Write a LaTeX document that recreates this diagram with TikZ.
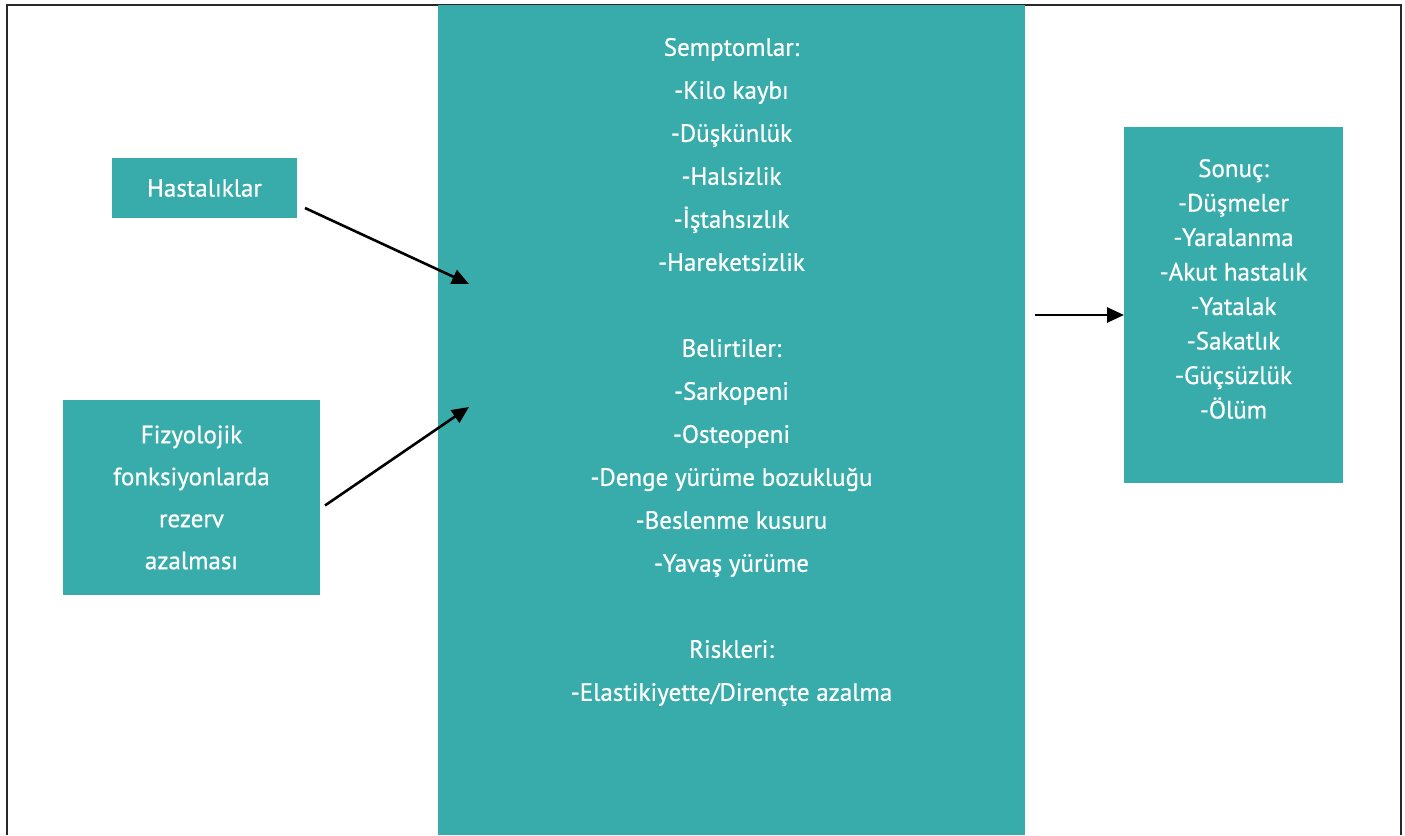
\documentclass[tikz,border=0pt]{standalone}
\usepackage{fontspec}
\setmainfont[FakeBold=0.7]{PT Sans}
\usepackage{tikz}
\usetikzlibrary{arrows.meta}

\begin{document}
\begin{tikzpicture}[x=1pt,y=1pt]
\definecolor{fillColor}{RGB}{56,172,170}
\definecolor{drawColor}{RGB}{40,40,40}
\tikzset{
  kutu/.style={fill=fillColor,draw=none,inner sep=0pt,outer sep=0pt,text=white,align=center},
  yazi/.style={text=white,align=center,inner sep=0pt,outer sep=0pt},
  ok/.style={draw=black,line width=2.6pt,-{Triangle[length=17pt,width=15pt]}}
}
\path[use as bounding box,fill=white] (0,0) rectangle (1405,835);

% frame
\path[draw=drawColor,line width=2pt] (7,0) -- (7,830) -- (1401,830) -- (1401,0);

% boxes
\node[kutu,minimum width=587,minimum height=830] (merkez) at (731.5,415) {};
\node[kutu,minimum width=185,minimum height=60,font=\fontsize{25}{42}\selectfont] (hastalik) at (204.5,647) {Hastalıklar};
\node[kutu,minimum width=257,minimum height=195,font=\fontsize{25}{42}\selectfont] (fizyo) at (191.5,337.5) {Fizyolojik\\fonksiyonlarda\\rezerv\\azalması};
\node[kutu,minimum width=219,minimum height=356] (sonuc) at (1233.5,530) {};

% texts
\node[yazi,font=\fontsize{25}{43}\selectfont] (belirti) at (731.5,463) {Semptomlar:\\-Kilo kaybı\\-Düşkünlük\\-Halsizlik\\-İştahsızlık\\-Hareketsizlik\\[43pt]Belirtiler:\\-Sarkopeni\\-Osteopeni\\-Denge yürüme bozukluğu\\-Beslenme kusuru\\-Yavaş yürüme\\[43pt]Riskleri:\\-Elastikiyette/Dirençte azalma};
\node[yazi,font=\fontsize{25}{34.5}\selectfont] (sonucyazi) at (1233.5,546) {Sonuç:\\-Düşmeler\\-Yaralanma\\-Akut hastalık\\-Yatalak\\-Sakatlık\\-Güçsüzlük\\-Ölüm};

% arrows
\coordinate (ok1) at (469,551);
\coordinate (ok2) at (469,428);
\draw[ok] ([shift={(8,-20)}]hastalik.east) -- (ok1);
\draw[ok] ([shift={(5,-8)}]fizyo.east) -- (ok2);
\draw[ok] ([xshift=10]merkez.east |- 0,520) -- (sonuc.west |- 0,520);
\end{tikzpicture}
\end{document}
